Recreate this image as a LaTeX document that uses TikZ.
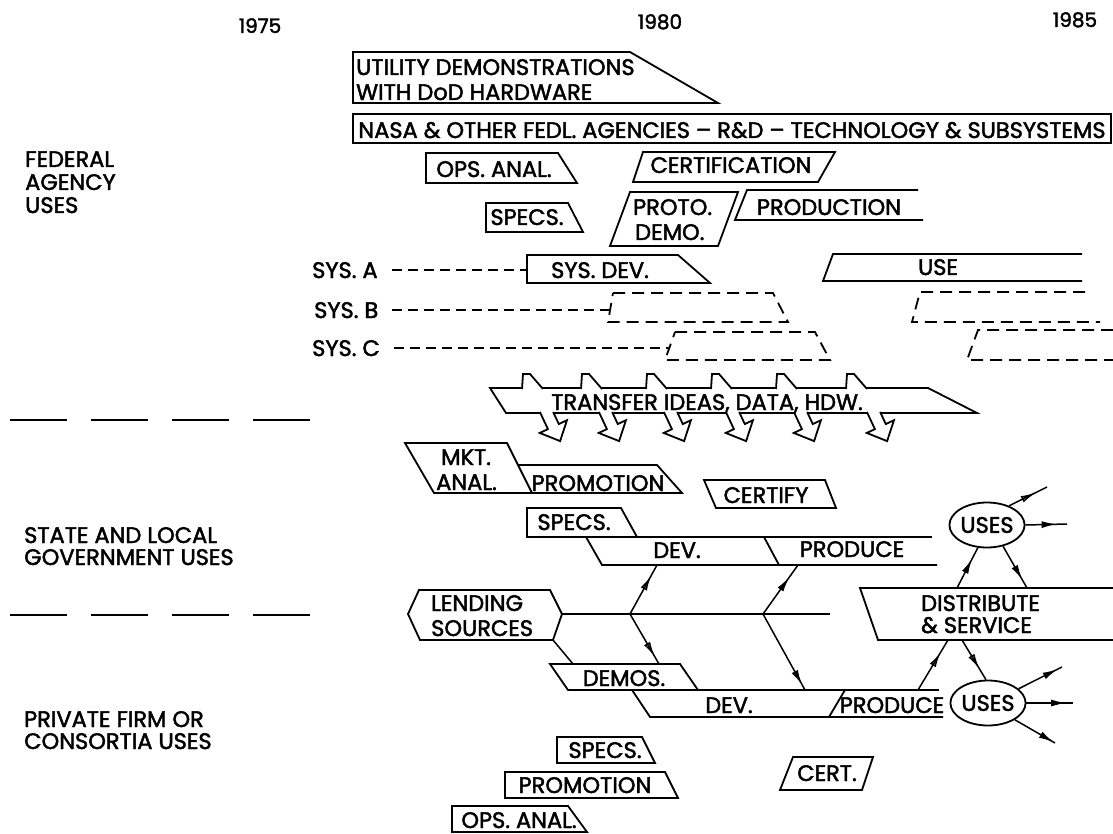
\documentclass[tikz,border=0pt]{standalone}
\usepackage{fontspec}
\setmainfont{Poppins}[BoldFont=Poppins, BoldFeatures={FakeBold=2}]
\usetikzlibrary{arrows.meta,decorations.markings,shapes.geometric}
\newcommand\labfont{\fontsize{22.5}{24}\selectfont\bfseries}
\newcommand\yrfont{\fontsize{20}{22}\selectfont\bfseries}
\begin{document}
\begin{tikzpicture}[x=1pt,y=-1pt,
  box/.style={line width=1.8pt, line join=miter},
  dbox/.style={box, dash pattern=on 12pt off 7pt},
  dline/.style={line width=1.8pt, dash pattern=on 10pt off 6pt},
  sep/.style={line width=1.8pt, dash pattern=on 57pt off 24pt},
  txt/.style={inner sep=0pt, font=\labfont, anchor=base},
  txtw/.style={inner sep=0pt, font=\labfont, anchor=base west},
  usesnode/.style={draw, ellipse, line width=1.8pt, minimum width=62pt, minimum height=45pt, inner sep=0pt, font=\labfont},
  con/.style={line width=1.5pt},
  arrF/.style={con, postaction={decorate}, decoration={markings, mark=at position #1 with {\arrow{Latex[length=15pt,width=7pt]}}}},
  arrO/.style={con, postaction={decorate}, decoration={markings, mark=at position #1 with {\arrow{Latex[open,length=15pt,width=7pt]}}}},
  darr/.pic={\draw[box, fill=white] (-7.1,-1) -- (0.91,16.13) -- (-7.24,19.94) -- (13.11,28.09) -- (19.94,7.24) -- (11.79,11.05) -- (6.16,-1);},
  notch/.pic={\draw[box, fill=white] (0,1) -- (1,-14) -- (8,-14) -- (21,1);}
]
\useasboundingbox (0,0) rectangle (1113,834);
% years
\node[txt, font=\yrfont] (y75) at (260,33) {1975};
\node[txt, font=\yrfont] (y80) at (660,29) {1980};
\node[txt, font=\yrfont] (y85) at (1075,27) {1985};
% left labels
\node[txtw] (fed1) at (25,167) {FEDERAL};
\node[txtw] (fed2) at (25,190) {AGENCY};
\node[txtw] (fed3) at (25,213) {USES};
\node[txtw] (st1) at (24,543) {STATE AND LOCAL};
\node[txtw] (st2) at (24,565) {GOVERNMENT USES};
\node[txtw] (pr1) at (24,727) {PRIVATE FIRM OR};
\node[txtw] (pr2) at (24,749) {CONSORTIA USES};
\draw[sep] (10,420) -- (312,420);
\draw[sep] (10,615) -- (312,615);
% federal
\draw[box] (353,52) -- (630,52) -- (718,103) -- (353,103) -- cycle;
\node[txtw] (util1) at (356,75) {UTILITY DEMONSTRATIONS};
\node[txtw] (util2) at (356,100) {WITH DoD HARDWARE};
\draw[box] (353,114) rectangle (1111,143);
\node[txt] (nasa) at (732,138) {NASA \& OTHER FEDL. AGENCIES -- R\&D -- TECHNOLOGY \& SUBSYSTEMS};
\draw[box] (426,153) -- (558,153) -- (577,183) -- (426,183) -- cycle;
\node[txt] (opsF) at (494,177) {OPS. ANAL.};
\draw[box] (643,152) -- (835,152) -- (818,182) -- (633,182) -- cycle;
\node[txt] (certF) at (731,173) {CERTIFICATION};
\draw[box] (486,203) -- (568,203) -- (583,232) -- (486,232) -- cycle;
\node[txt] (specsF) at (527,225) {SPECS.};
\draw[box] (630,192) -- (738,192) -- (718,246) -- (610,246) -- cycle;
\node[txtw] (proto) at (633,215) {PROTO.};
\node[txtw] (demo) at (635,240) {DEMO.};
\draw[box] (918,190) -- (747,190) -- (735,220) -- (923,220);
\node[txt] (prodn) at (829,215) {PRODUCTION};
% systems
\node[txtw] (sysA) at (312,278) {SYS. A};
\node[txtw] (sysB) at (314,318) {SYS. B};
\node[txtw] (sysC) at (312,356) {SYS. C};
\draw[box] (527,255) -- (678,255) -- (710,283) -- (527,283) -- cycle;
\node[txt] (sysdev) at (600,278) {SYS. DEV.};
\coordinate (aIn) at (527,271);
\draw[dline] ([xshift=14pt]sysA.east) -- (sysA.east -| aIn);
\draw[box] (1082,254) -- (833,254) -- (823,281) -- (1082,281);
\node[txt] (use) at (938,275) {USE};
\draw[dbox] (613,293) -- (773,293) -- (788,322) -- (608,322) -- cycle;
\coordinate (bIn) at (610,310);
\draw[dline] ([xshift=14pt]sysB.east) -- (sysB.east -| bIn);
\draw[dbox] (1085,292) -- (920,292) -- (912,322) -- (1100,322);
\draw[dbox] (675,332) -- (815,332) -- (830,360) -- (665,360) -- cycle;
\coordinate (cIn) at (669,348);
\draw[dline] ([xshift=14pt]sysC.east) -- (sysC.east -| cIn);
\draw[dbox] (1113,330) -- (978,330) -- (967,360) -- (1113,360);
% transfer banner
\draw[box] (506,413) -- (490,388) -- (928,388) -- (977,413) -- cycle;
\foreach \x in {522,581,646,711,776,846} \pic at (\x,388) {notch};
\foreach \x in {547,606,671,733,801,874} \pic at (\x,413) {darr};
\node[txt] (transfer) at (707,410) {TRANSFER IDEAS, DATA, HDW.};
% state and local
\draw[box] (405,443) -- (507,443) -- (532,493) -- (434,493) -- cycle;
\node[txtw] (mkt1) at (441,465) {MKT.};
\node[txtw] (mkt2) at (436,490) {ANAL.};
\draw[box] (518,465) -- (657,465) -- (682,493) -- (532,493);
\node[txt] (promoS) at (598,491) {PROMOTION};
\draw[box] (704,480) -- (825,480) -- (836,508) -- (716,508) -- cycle;
\node[txt] (certify) at (766,503) {CERTIFY};
\draw[box] (527,508) -- (621,508) -- (637,537) -- (527,537) -- cycle;
\node[txt] (specsS) at (574,530) {SPECS.};
\draw[box] (637,537) -- (932,537);
\draw[box] (586,537) -- (602,565) -- (937,565);
\draw[box] (764,537) -- (779,565);
\node[txt] (devS) at (677,558) {DEV.};
\node[txt] (prodS) at (852,557) {PRODUCE};
% lending
\draw[box] (408,614) -- (419,590) -- (550,590) -- (562,614) -- (553,640) -- (420,640) -- cycle;
\node[txtw] (lend1) at (431,611) {LENDING};
\node[txtw] (lend2) at (431,636) {SOURCES};
\coordinate (lendR) at (562,614);
\coordinate (lineEnd) at (830,614);
\coordinate (b1) at (630,614);
\coordinate (b2) at (763,614);
\draw[con] (lendR) -- (lineEnd);
\coordinate (lendBR) at (553,640);
\coordinate (demosIn) at (573,664);
\draw[con] (lendBR) -- (demosIn);
% private
\draw[box] (550,664) -- (680,664) -- (698,690) -- (568,690) -- cycle;
\node[txt] (demos) at (624,686) {DEMOS.};
\draw[box] (698,690) -- (939,690);
\draw[box] (632,690) -- (650,717) -- (943,717);
\draw[box] (845,690) -- (829,717);
\node[txt] (devP) at (729,713) {DEV.};
\node[txt] (prodP) at (892,713) {PRODUCE};
% distribute and uses
\draw[box] (1113,588) -- (860,588) -- (878,640) -- (1113,640);
\node[txtw] (dist1) at (921,611) {DISTRIBUTE};
\node[txtw] (dist2) at (921,633) {\& SERVICE};
\node[usesnode] (usesT) at (987,525) {USES};
\node[usesnode] (usesB) at (988,703) {USES};
% connectors
\coordinate (devSin) at (657,565);
\coordinate (demosTop) at (659,664);
\coordinate (prodSin) at (798,565);
\coordinate (devPtop) at (805,690);
\coordinate (prodPout) at (918,690);
\coordinate (distB1) at (948,640);
\coordinate (distT1) at (957,588);
\coordinate (distT2) at (1027,588);
\coordinate (distB2) at (962,640);
\coordinate (oT1) at (1047,487);
\coordinate (oT2) at (1067,524);
\coordinate (oB1) at (1062,667);
\coordinate (oB2) at (1073,703);
\coordinate (oB3) at (1055,743);
\draw[arrO=0.78] (b1) -- (devSin);
\draw[arrO=0.85] (b1) -- (demosTop);
\draw[arrF=0.75] (b2) -- (prodSin);
\draw[arrF=0.93] (b2) -- (devPtop);
\draw[arrO=0.75] (prodPout) -- (distB1);
\draw[arrF=0.72] (distT1) -- (usesT.-112);
\draw[arrF=0.8] (usesT.-53) -- (distT2);
\draw[arrO=0.7] (usesT.41) -- (oT1);
\draw[arrF=0.75] (usesT.0) -- (oT2);
\draw[arrO=0.72] (distB2) -- (usesB.95);
\draw[arrF=0.9] (usesB.25) -- (oB1);
\draw[arrF=0.85] (usesB.0) -- (oB2);
\draw[arrF=0.97] (usesB.-32) -- (oB3);
% private lower boxes
\draw[box] (557,737) -- (642,737) -- (655,763) -- (557,763) -- cycle;
\node[txt] (specsP) at (605,758) {SPECS.};
\draw[box] (505,772) -- (665,772) -- (678,798) -- (505,798) -- cycle;
\node[txt] (promoP) at (585,793) {PROMOTION};
\draw[box] (452,806) -- (568,806) -- (587,832) -- (452,832) -- cycle;
\node[txt] (opsP) at (519,828) {OPS. ANAL.};
\draw[box] (793,757) -- (873,757) -- (862,790) -- (780,790) -- cycle;
\node[txt] (certP) at (827,781) {CERT.};
\end{tikzpicture}
\end{document}
